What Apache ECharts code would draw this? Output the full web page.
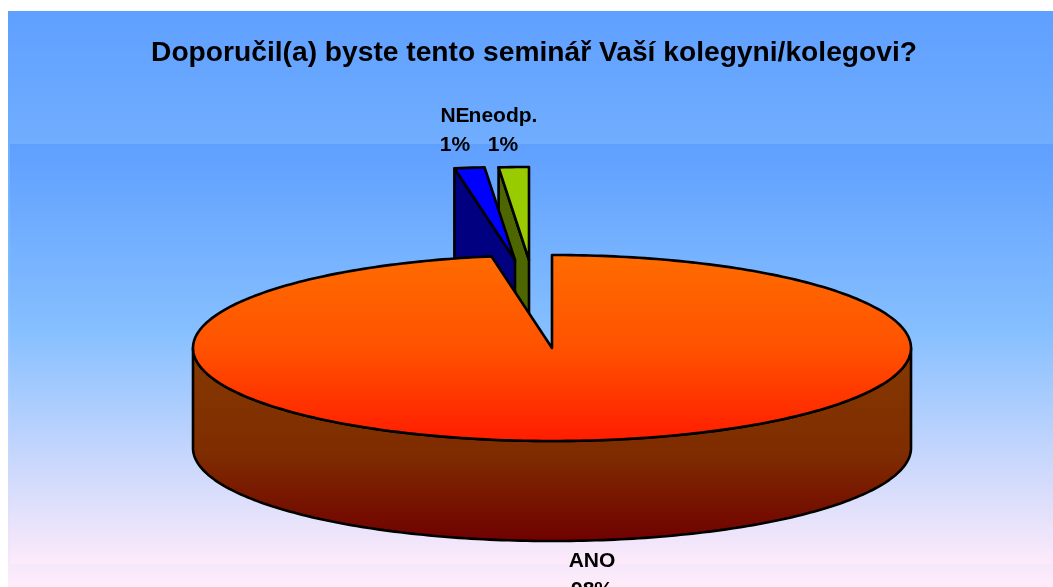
<!DOCTYPE html>
<html>
<head>
<meta charset="utf-8">
<title>Doporučil(a) byste tento seminář</title>
<style>
    html, body { margin: 0; padding: 0; background: #fff; }
    #main { width: 1053px; height: 587px; }
</style>
<script src="https://cdn.jsdelivr.net/npm/echarts@6/dist/echarts.min.js"></script>
</head>
<body>
<div id="main"></div>
<script>
// data
var eTitle = 'Doporučil(a) byste tento seminář Vaší kolegyni/kolegovi?';
var categories = ['ANO', 'NE', 'neodp.'];
var shares = [97.3, 1.35, 1.35];
var percentLabels = ['98%', '1%', '1%'];

// layout of the tilted pie
var cx = 552, cy = 348, rx = 359, ry = 93, depth = 100;
var explode = [[0, 0], [-37, -88], [-23, -88]];
var labelPos = [[592, 576], [455, 131], [503, 131]];
var topFill = [
    new echarts.graphic.LinearGradient(0, 0, 0, 1, [
        { offset: 0, color: '#ff6c00' },
        { offset: 0.5, color: '#ff5200' },
        { offset: 1, color: '#ff1c00' }
    ]),
    '#0000ff',
    '#99cc00'
];
var sideFill = [
    new echarts.graphic.LinearGradient(0, 0, 0, 1, [
        { offset: 0, color: '#853a00' },
        { offset: 0.55, color: '#7f2c00' },
        { offset: 1, color: '#700000' }
    ]),
    '#000080',
    '#4d6600'
];

function ellipsePoint(deg, dx, dy) {
    var a = deg * Math.PI / 180;
    return [cx + dx + rx * Math.sin(a), cy + dy - ry * Math.cos(a)];
}

function sliceAngles(index) {
    var total = shares.reduce(function (s, v) { return s + v; }, 0);
    var start = 0;
    for (var i = 0; i < index; i++) {
        start += shares[i] / total * 360;
    }
    return [start, start + shares[index] / total * 360];
}

function arcPoints(from, to, dx, dy) {
    var pts = [];
    var n = Math.max(2, Math.ceil(Math.abs(to - from)));
    for (var i = 0; i <= n; i++) {
        pts.push(ellipsePoint(from + (to - from) * i / n, dx, dy));
    }
    return pts;
}

function lineStyle(fill) {
    return { fill: fill, stroke: '#000', lineWidth: 2.6, lineJoin: 'round' };
}

function renderSlice(params, api) {
    var idx = api.value(0);
    var ang = sliceAngles(idx);
    var dx = explode[idx][0], dy = explode[idx][1];
    var centre = [cx + dx, cy + dy];
    var children = [];

    if (idx === 0) {
        // outer wall, front half only
        var wall = arcPoints(90, 270, dx, dy).concat(arcPoints(270, 90, dx, dy + depth));
        children.push({ type: 'polygon', shape: { points: wall }, style: lineStyle(sideFill[idx]) });
    } else {
        // cut face that looks to the viewer
        var p = ellipsePoint(ang[0], dx, dy);
        var face = [centre, p, [p[0], p[1] + depth], [centre[0], centre[1] + depth]];
        children.push({ type: 'polygon', shape: { points: face }, style: lineStyle(sideFill[idx]) });
    }

    var top = [centre].concat(arcPoints(ang[0], ang[1], dx, dy));
    children.push({ type: 'polygon', shape: { points: top }, style: lineStyle(topFill[idx]) });

    children.push({
        type: 'text',
        z2: 10,
        style: {
            text: categories[idx] + '\n' + percentLabels[idx],
            x: labelPos[idx][0],
            y: labelPos[idx][1],
            align: 'center',
            verticalAlign: 'middle',
            font: 'bold 21px "Liberation Sans", Arial, sans-serif',
            lineHeight: 29,
            fill: '#000'
        }
    });
    return { type: 'group', children: children };
}

function build() {
    var myChart = echarts.init(document.getElementById('main'), null, { renderer: 'canvas' });

    var option = {
        animation: false,
        title: {
            text: eTitle,
            left: 529,
            top: 34,
            textAlign: 'center',
            textStyle: { fontFamily: '"Liberation Sans", Arial, sans-serif', fontWeight: 'bold', fontSize: 28.2, color: '#000' }
        },
        xAxis: { show: false },
        yAxis: { show: false },
        graphic: [
            {
                type: 'rect', z: -2, silent: true,
                shape: { x: 8, y: 11, width: 1045, height: 576 },
                style: {
                    fill: new echarts.graphic.LinearGradient(0, 0, 0, 1, [
                        { offset: 0, color: '#5f9fff' },
                        { offset: 0.5, color: '#85bfff' },
                        { offset: 1, color: '#ffecfa' }
                    ])
                }
            },
            {
                type: 'rect', z: -1, silent: true,
                shape: { x: 10, y: 144, width: 1043, height: 420 },
                style: {
                    fill: new echarts.graphic.LinearGradient(0, 0, 0, 1, [
                        { offset: 0, color: '#5f9fff' },
                        { offset: 0.44, color: '#85bfff' },
                        { offset: 1, color: '#fdeafa' }
                    ])
                }
            }
        ],
        series: [{
            type: 'custom',
            coordinateSystem: 'none',
            clip: false,
            renderItem: renderSlice,
            // drawn back to front
            data: [[2], [1], [0]]
        }]
    };

    myChart.setOption(option);
}

build();
</script>
</body>
</html>
